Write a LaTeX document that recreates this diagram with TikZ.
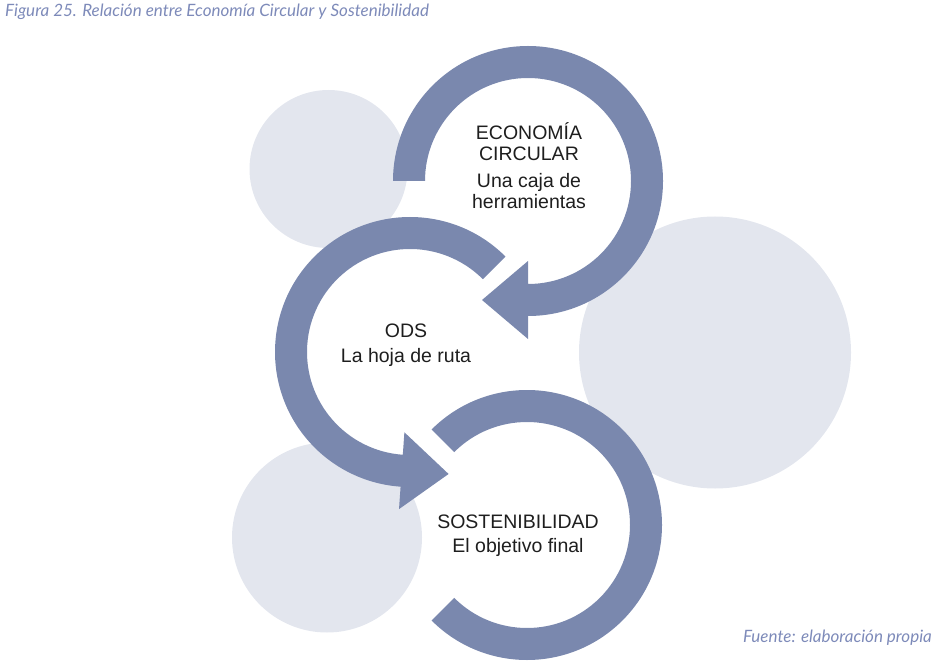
\documentclass[tikz,border=0pt]{standalone}
\usepackage{fontspec}
\setmainfont{Liberation Sans}
\newfontfamily\capfont{Lato}
\usetikzlibrary{calc}
\definecolor{arcblue}{RGB}{122,136,174}
\definecolor{softgray}{RGB}{227,230,238}
\definecolor{capblue}{RGB}{125,138,185}
\definecolor{txt}{RGB}{30,30,30}
\begin{document}
\begin{tikzpicture}[x=1pt,y=1pt,
  bubble/.style={fill=softgray,draw=none},
  ring/.style={fill=arcblue,draw=none},
  lbl/.style={text=txt,align=center,font=\fontsize{19.5}{21}\selectfont,inner sep=0pt},
  captxt/.style={text=capblue,font=\capfont\itshape\fontsize{17}{20}\selectfont,inner sep=0pt}]
\useasboundingbox (0,0) rectangle (939,665);
% background bubbles
\coordinate (btl) at (328.5,496);
\coordinate (brt) at (715,312.5);
\coordinate (bbl) at (327,127.5);
\fill[bubble] (btl) circle[radius=79];
\fill[bubble] (brt) circle[radius=136];
\fill[bubble] (bbl) circle[radius=95];
% top arc with arrow
\coordinate (ca) at (528,484);
\fill[ring] ($(ca)+(180:135)$) arc[start angle=180,end angle=-90,radius=135]
  -- ($(ca)+(-90:158)$) -- ($(ca)+(-90:119)+(180:46)$) -- ($(ca)+(-90:80)$)
  -- ($(ca)+(-90:103)$) arc[start angle=-90,end angle=180,radius=103] -- cycle;
% middle arc with arrow
\coordinate (cb) at (410,313);
\fill[ring] ($(cb)+(45:135)$) arc[start angle=45,end angle=266,radius=135]
  -- ($(cb)+(266:157.5)$) -- ($(cb)+(266:119)+(-4:47)$) -- ($(cb)+(266:80.5)$)
  -- ($(cb)+(266:103)$) arc[start angle=266,end angle=45,radius=103] -- cycle;
% bottom arc
\coordinate (cc) at (527,140);
\fill[ring] ($(cc)+(135:135)$) arc[start angle=135,end angle=-135,radius=135]
  -- ($(cc)+(-135:103)$) arc[start angle=-135,end angle=135,radius=103] -- cycle;
% labels
\node[lbl] (eco) at (529,499) {ECONOMÍA\\CIRCULAR\\[6pt]Una caja de\\herramientas};
\node[lbl] (ods) at (406,319.5) {ODS\\[4pt]La hoja de ruta};
\node[lbl] (sos) at (518,129) {SOSTENIBILIDAD\\[3pt]El objetivo final};
\node[captxt,anchor=west] (title) at (5,653) {Figura 25. Relación entre Economía Circular y Sostenibilidad};
\node[captxt,anchor=east] (source) at (932,27) {Fuente: elaboración propia};
\end{tikzpicture}
\end{document}
